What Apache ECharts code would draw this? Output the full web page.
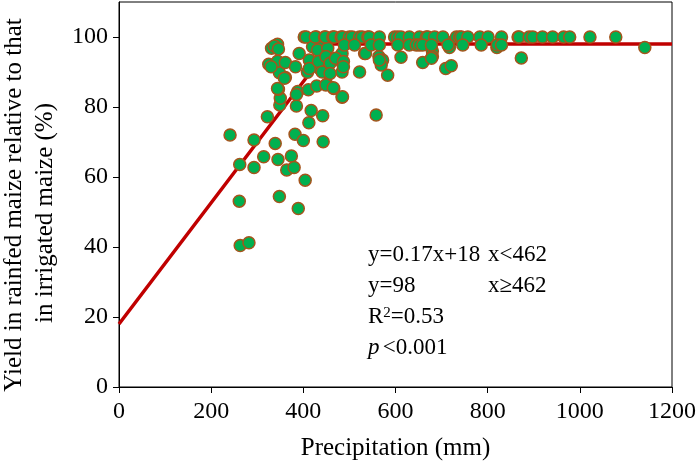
<!DOCTYPE html>
<html>
<head>
<meta charset="utf-8">
<script src="https://cdn.jsdelivr.net/npm/echarts@6/dist/echarts.min.js"></script>
<style>html,body{margin:0;padding:0;background:#fff;}#chart{width:700px;height:471px;}</style>
</head>
<body>
<div id="chart"></div>
<script>
// Observed points: [precipitation (mm), relative yield (%)]
const lowPoints = [[241,72],[293,70.6],[322,77.2],[349,80.6],[385,80.3],[417,79],[412,75.5],[339,69.6],[382,72.2],[400,70.4],[443,70.1],[442,77.5],[314,65.8],[345,65],[374,66],[364,62],[380,62.7],[262,63.6],[293,62.7],[404,59.1],[261,53.1],[348,54.4],[389,51],[263,40.4],[282,41.2]];
const midPoints = [[350,82.5],[346,85.1],[388,84.4],[411,84.9],[429,86],[451,86.5],[466,85.3],[484,82.8],[361,88.4],[348,89.8],[325,92.2],[344,93.1],[361,92.7],[383,91.5],[409,89.9],[391,95.3],[331,96.8],[344,97.9],[337,97.4],[346,96.6],[420,97.2],[442,95.8],[484,95.3],[484,92.7],[484,90],[462,93.4],[442,92.5],[435,91],[522,90],[533,95.3],[442,97.7],[330,91.5],[359,88.2],[344,85.3],[413,93.4],[413,91],[431,96.3],[433,93],[441,90],[453,96.8],[449,94.4],[458,92.5],[458,89.6],[449,86.3],[465,85.5],[470,93.9],[385,83.6],[487,93],[487,91.5],[564,94.4],[572,93.4],[569,92],[612,94.2],[583,89.1],[659,92.7],[485,82.9],[558,77.7],[535,95.3],[565,93.4],[680,96],[680,94.4],[709,91],[721,91.8],[714,98.4],[678,93.9],[717,97],[820,97],[873,94],[1141,97]];
const topRowX = [402,406,428,426,446,448,464,467,482,485,500,506,522,528,540,543,565,598,605,612,630,652,667,670,685,703,732,739,743,757,783,801,830,866,868,890,898,919,941,965,978,1022,1078];
const topRowY = 100;
const nearTopX = [489,511,547,565,605,630,645,652,659,678,714,746,786,821,830];
const nearTopY = 97.7;
// Fitted linear-plateau model
const fitLine = [[0,18],[462,98],[1200,98]];
const xTicks = [0,200,400,600,800,1000,1200];
const yTicks = [0,20,40,60,80,100];

const scatterData = lowPoints.concat(midPoints)
  .concat(topRowX.map(x => [x, topRowY]))
  .concat(nearTopX.map(x => [x, nearTopY]));

const FONT = '"Liberation Serif", "Times New Roman", serif';
const chart = echarts.init(document.getElementById('chart'), null, {renderer: 'canvas'});
chart.setOption({
  animation: false,
  backgroundColor: '#fff',
  grid: {left: 119, right: 28, top: 2, bottom: 84, show: true, borderColor: '#000', borderWidth: 1},
  xAxis: {
    type: 'value', min: 0, max: 1200, interval: 200,
    axisLine: {show: true, lineStyle: {color: '#000', width: 1}},
    axisTick: {show: true, inside: false, length: 6, lineStyle: {color: '#000'}, customValues: xTicks},
    splitLine: {show: false},
    axisLabel: {color: '#000', fontFamily: FONT, fontSize: 24, margin: 13, customValues: xTicks,
      formatter: v => String(v)},
    name: 'Precipitation (mm)', nameLocation: 'middle', nameGap: 49,
    nameTextStyle: {color: '#000', fontFamily: FONT, fontSize: 25}
  },
  yAxis: {
    type: 'value', min: 0, max: 110, interval: 20,
    axisLine: {show: true, lineStyle: {color: '#000', width: 1}},
    axisTick: {show: true, inside: false, length: 6, lineStyle: {color: '#000'}, customValues: yTicks},
    splitLine: {show: false},
    axisLabel: {color: '#000', fontFamily: FONT, fontSize: 24, margin: 11, customValues: yTicks,
      formatter: v => (v > 100 ? '' : String(v))}
  },
  graphic: [
    {type: 'text', x: 14, y: 205, rotation: Math.PI/2,
     style: {text: 'Yield in rainfed maize relative to that', fontFamily: FONT, fontSize: 25, fill: '#000', align: 'center', verticalAlign: 'middle'}},
    {type: 'text', x: 45, y: 213, rotation: Math.PI/2,
     style: {text: 'in irrigated maize (%)', fontFamily: FONT, fontSize: 25, fill: '#000', align: 'center', verticalAlign: 'middle'}},
    {type: 'text', x: 368, y: 255, style: {text: 'y=0.17x+18', fontFamily: FONT, fontSize: 23, fill: '#000', verticalAlign: 'middle'}},
    {type: 'text', x: 488, y: 255, style: {text: 'x<462', fontFamily: FONT, fontSize: 23, fill: '#000', verticalAlign: 'middle'}},
    {type: 'text', x: 368, y: 286, style: {text: 'y=98', fontFamily: FONT, fontSize: 23, fill: '#000', verticalAlign: 'middle'}},
    {type: 'text', x: 488, y: 286, style: {text: 'x≥462', fontFamily: FONT, fontSize: 23, fill: '#000', verticalAlign: 'middle'}},
    {type: 'text', x: 368, y: 317, style: {text: '{a|R}{s|2}{a|=0.53}', fill: '#000', verticalAlign: 'middle',
      rich: {a: {fontFamily: FONT, fontSize: 23, fill: '#000'}, s: {fontFamily: FONT, fontSize: 15, fill: '#000', verticalAlign: 'top', padding: [0,0,8,0]}}}},
    {type: 'text', x: 368, y: 348, style: {text: '{i|p} {a|<0.001}', fill: '#000', verticalAlign: 'middle',
      rich: {a: {fontFamily: FONT, fontSize: 23, fill: '#000'}, i: {fontFamily: FONT, fontSize: 23, fontStyle: 'italic', fill: '#000'}}}}
  ],
  series: [
    {type: 'line', data: fitLine, symbol: 'none', z: 1,
     lineStyle: {color: '#c00000', width: 3.5}},
    {type: 'scatter', data: scatterData, symbol: 'circle', symbolSize: 12, z: 2,
     itemStyle: {color: '#00b050', borderColor: '#a5541c', borderWidth: 1.5, opacity: 1}}
  ]
});
</script>
</body>
</html>
